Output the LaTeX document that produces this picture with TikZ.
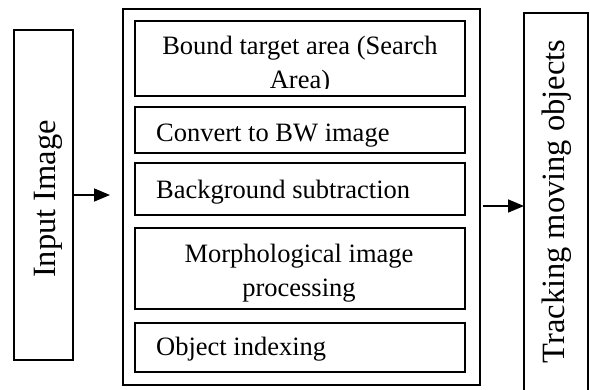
\documentclass[tikz,border=0pt]{standalone}
\usepackage{fontspec}
\setmainfont{Liberation Serif}
\usetikzlibrary{arrows.meta}

\begin{document}
\begin{tikzpicture}[x=1pt,y=-1pt,
  box/.style={draw,line width=1.6pt,inner sep=0pt,outer sep=0pt},
  steptext/.style={inner sep=0pt,font=\fontsize{26.5}{34}\selectfont},
  sidetext/.style={inner sep=0pt,rotate=90,anchor=base,font=\fontsize{32.5}{38}\selectfont},
  arr/.style={line width=1.6pt,-{Triangle[length=16pt,width=13pt]}}]
\useasboundingbox (0,0) rectangle (590,389);

% input and output blocks
\node[box,minimum width=59pt,minimum height=330pt] (input) at (43.5,195) {};
\node[sidetext] (inputtxt) at (55,199) {Input Image};
\node[box,minimum width=64pt,minimum height=380pt] (track) at (556,203) {};
\node[sidetext] (tracktxt) at (564,201.5) {Tracking moving objects};

% processing block with its stages
\node[box,minimum width=357pt,minimum height=376pt] (outer) at (301.5,197) {};
\node[box,minimum width=330pt,minimum height=75pt] (b1) at (300,58.5) {};
\node[box,minimum width=330pt,minimum height=46pt] (b2) at (300,130) {};
\node[box,minimum width=330pt,minimum height=52pt] (b3) at (300,189) {};
\node[box,minimum width=330pt,minimum height=81pt] (b4) at (300,268.5) {};
\node[box,minimum width=330pt,minimum height=49pt] (b5) at (300,347.5) {};

\begin{scope}
  \clip (136,22) rectangle (464,88);
  \node[steptext,align=center,anchor=north] (t1) at (300,35.5)
    {Bound target area (Search\\Area)};
\end{scope}
\node[steptext,anchor=base west] (t2) at (156,141) {Convert to BW image};
\node[steptext,anchor=base west] (t3) at (156,198) {Background subtraction};
\node[steptext,align=center,anchor=north] (t4) at (299,243.7)
  {Morphological image\\processing};
\node[steptext,anchor=base west] (t5) at (156,355) {Object indexing};

% connectors
\draw[arr,shorten >=13pt] (input.east) -- (input.east -| outer.west);
\coordinate (out2) at (480,206);
\draw[arr,shorten <=3pt] (out2) -- (out2 -| track.west);
\end{tikzpicture}
\end{document}
